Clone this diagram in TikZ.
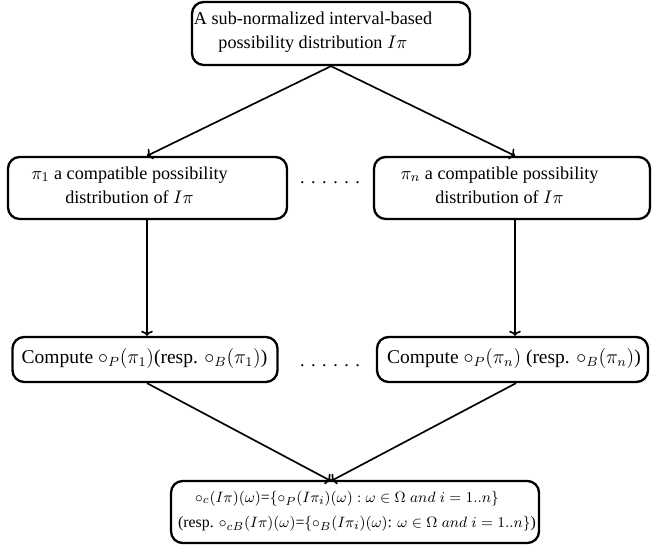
\documentclass[tikz,border=0pt]{standalone}
\usepackage{amsmath}
\usepackage{fontspec}
\setmainfont{Liberation Serif}
\usetikzlibrary{arrows.meta}

\begin{document}
\begin{tikzpicture}[x=0.6pt, y=-0.6pt,
    box/.style={draw, line width=1.4pt, rounded corners=7pt, inner sep=0pt},
    txt/.style={align=center, inner sep=0pt, font=\fontsize{10.9}{14.5}\selectfont},
    link/.style={line width=1pt, -{To[length=3pt, width=7pt]}}]
    \useasboundingbox (0,0) rectangle (652,548);

    % Draw boxes
    \node[box, minimum width=278*0.6pt, minimum height=63*0.6pt] (top) at (331,33.5) {};
    \node[box, minimum width=279*0.6pt, minimum height=62*0.6pt] (pione) at (147.5,188) {};
    \node[box, minimum width=276*0.6pt, minimum height=62*0.6pt] (pin) at (512,188) {};
    \node[box, minimum width=265*0.6pt, minimum height=45*0.6pt] (compone) at (145,359.5) {};
    \node[box, minimum width=271*0.6pt, minimum height=45*0.6pt] (compn) at (512.5,359.5) {};
    \node[box, minimum width=368*0.6pt, minimum height=62*0.6pt] (res) at (355,512) {};

    % Draw texts
    \node[txt] (toptext) at (313,32) {A sub-normalized interval-based\\ possibility distribution $I\pi$};
    \node[txt] (pionetext) at (129.5,185) {$\pi_1$ a compatible possibility\\ distribution of $I\pi$};
    \node[txt] (pintext) at (499.5,185) {$\pi_n$ a compatible possibility\\ distribution of $I\pi$};
    \node[txt, font=\fontsize{11.7}{14.5}\selectfont] (componetext) at (144.5,359) {Compute $\circ_P(\pi_1)$(resp. $\circ_B(\pi_1)$)};
    \node[txt, font=\fontsize{11.7}{14.5}\selectfont] (compntext) at (514,359) {Compute $\circ_P(\pi_n)$ (resp. $\circ_B(\pi_n)$)};
    \node[txt, font=\fontsize{9.5}{15}\selectfont] (restext) at (357,511)
        {\hspace*{-12pt}$\circ_c(I\pi)(\omega)$=$\{\circ_P(I\pi_i)(\omega):\omega\in\Omega\;and\;i=1..n\}$\\
         (resp. $\circ_{cB}(I\pi)(\omega)$=$\{\circ_B(I\pi_i)(\omega)$: $\omega\in\Omega\;and\;i=1..n\}$)};

    % Draw continuation dots
    \node[txt] (dotsa) at (330,183) {\makebox[36pt]{.\hfill.\hfill.\hfill.\hfill.\hfill.}};
    \node[txt] (dotsb) at (330,366) {\makebox[36pt]{.\hfill.\hfill.\hfill.\hfill.\hfill.}};

    % Draw arrows
    \coordinate (split) at (top.south);
    \coordinate (join) at (331,481);
    \draw[link] (split) -- (pione.north -| 147,0);
    \draw[link] (split) -- (pin.north -| 515,0);
    \draw[link] (pione.south -| 147,0) -- (compone.north -| 147,0);
    \draw[link] (pin.south -| 515,0) -- (compn.north -| 515,0);
    \draw[link] (compone.south -| 147,0) -- (join);
    \draw[link] (compn.south -| 516,0) -- (join);
\end{tikzpicture}
\end{document}
